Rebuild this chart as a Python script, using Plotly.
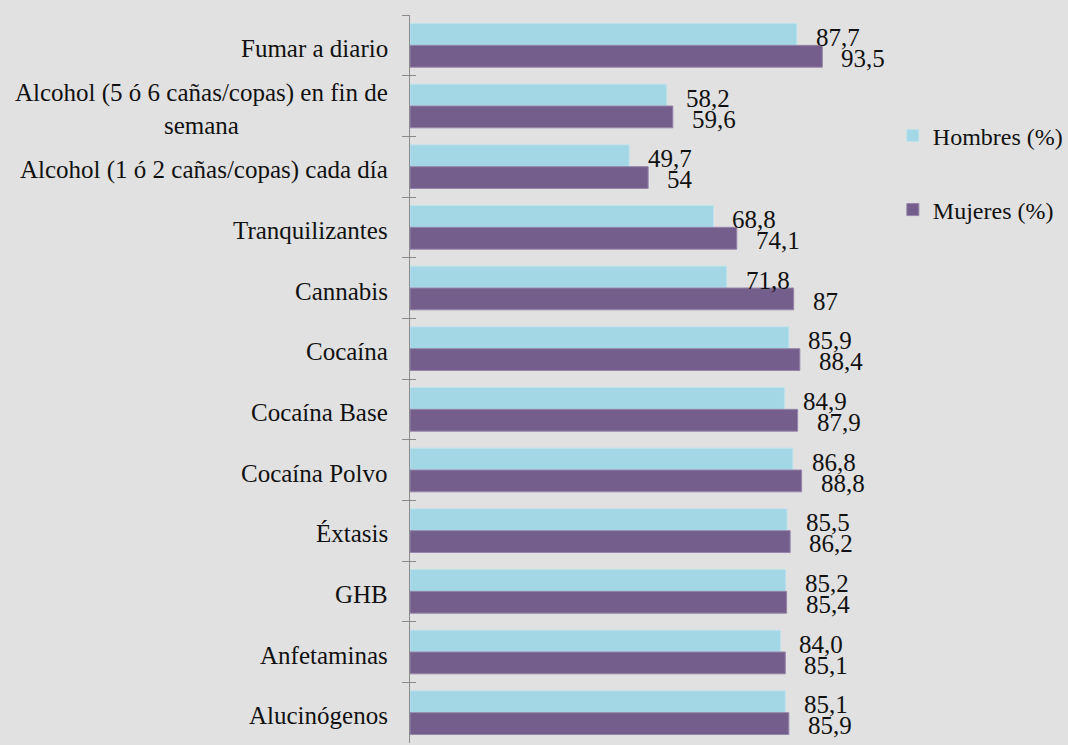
import plotly.graph_objects as go

categories = [
    "Fumar a diario",
    "Alcohol (5 ó 6 cañas/copas) en fin de<br>semana",
    "Alcohol (1 ó 2 cañas/copas) cada día",
    "Tranquilizantes",
    "Cannabis",
    "Cocaína",
    "Cocaína Base",
    "Cocaína Polvo",
    "Éxtasis",
    "GHB",
    "Anfetaminas",
    "Alucinógenos",
]
hombres = [87.7, 58.2, 49.7, 68.8, 71.8, 85.9, 84.9, 86.8, 85.5, 85.2, 84.0, 85.1]
mujeres = [93.5, 59.6, 54.0, 74.1, 87.0, 88.4, 87.9, 88.8, 86.2, 85.4, 85.1, 85.9]
hombres_labels = ["87,7", "58,2", "49,7", "68,8", "71,8", "85,9", "84,9", "86,8", "85,5", "85,2", "84,0", "85,1"]
mujeres_labels = ["93,5", "59,6", "54", "74,1", "87", "88,4", "87,9", "88,8", "86,2", "85,4", "85,1", "85,9"]

FONT = "Liberation Serif"
FS = 25
BG = "#e1e1e1"
C_H = "#a3d7e5"
C_M = "#745e8c"
AX = "#8a8a8a"

fig = go.Figure()
fig.add_trace(go.Bar(y=categories, x=hombres, orientation="h", name="Hombres (%)",
                     marker=dict(color=C_H, line=dict(width=1, color="#bfe3ec")), legendgroup="h"))
fig.add_trace(go.Bar(y=categories, x=mujeres, orientation="h", name="Mujeres (%)",
                     marker=dict(color=C_M, line=dict(width=1, color="#9585aa")), legendgroup="m"))
# invisible helper trace so the overlay axis draws the inner half of the crossing ticks
fig.add_trace(go.Scatter(y=categories, x=hombres, yaxis="y2", mode="none", showlegend=False,
                         hoverinfo="skip"))

annotations = []
for c in categories:
    annotations.append(dict(x=0, xref="paper", y=c, yref="y", text=c, showarrow=False,
                            xanchor="right", xshift=-20, yshift=-3, align="center",
                            font=dict(family=FONT, size=FS, color="#111")))
for c, v, t in zip(categories, hombres, hombres_labels):
    annotations.append(dict(x=v, y=c, text=t, showarrow=False, xanchor="left",
                            xshift=17, yshift=8, font=dict(family=FONT, size=FS, color="#111")))
for c, v, t in zip(categories, mujeres, mujeres_labels):
    annotations.append(dict(x=v, y=c, text=t, showarrow=False, xanchor="left",
                            xshift=17, yshift=-13, font=dict(family=FONT, size=FS, color="#111")))

n = len(categories)
fig.update_layout(
    width=1068, height=745,
    margin=dict(l=410, r=217, t=15, b=2, autoexpand=False),
    paper_bgcolor=BG, plot_bgcolor=BG,
    barmode="group", bargap=0.28, bargroupgap=0,
    font=dict(family=FONT, size=FS, color="#111"),
    showlegend=True,
    legend=dict(xref="container", x=0.836, xanchor="left", y=0.865, yanchor="top",
                traceorder="grouped", tracegroupgap=40, bgcolor="rgba(0,0,0,0)", itemwidth=30,
                font=dict(family=FONT, size=FS - 1, color="#111")),
    annotations=annotations,
    yaxis=dict(type="category", categoryorder="array", categoryarray=categories,
               range=[n - 0.5, -0.5], autorange=False, showticklabels=False, showline=True,
               linecolor=AX, linewidth=1, ticks="outside", ticklen=7, tickcolor=AX,
               tickson="boundaries", showgrid=False, zeroline=False),
    yaxis2=dict(type="category", categoryorder="array", categoryarray=categories,
                overlaying="y", matches="y", anchor="x", side="left", showticklabels=False,
                showline=False, ticks="inside", ticklen=6, tickcolor=AX, tickson="boundaries",
                showgrid=False, zeroline=False),
)
fig.update_xaxes(range=[0, 100], visible=False, showgrid=False, zeroline=False)

fig.write_html("out.html", config={"displayModeBar": False},
               post_script="document.body.style.margin='0';document.body.style.background='#e1e1e1';")
